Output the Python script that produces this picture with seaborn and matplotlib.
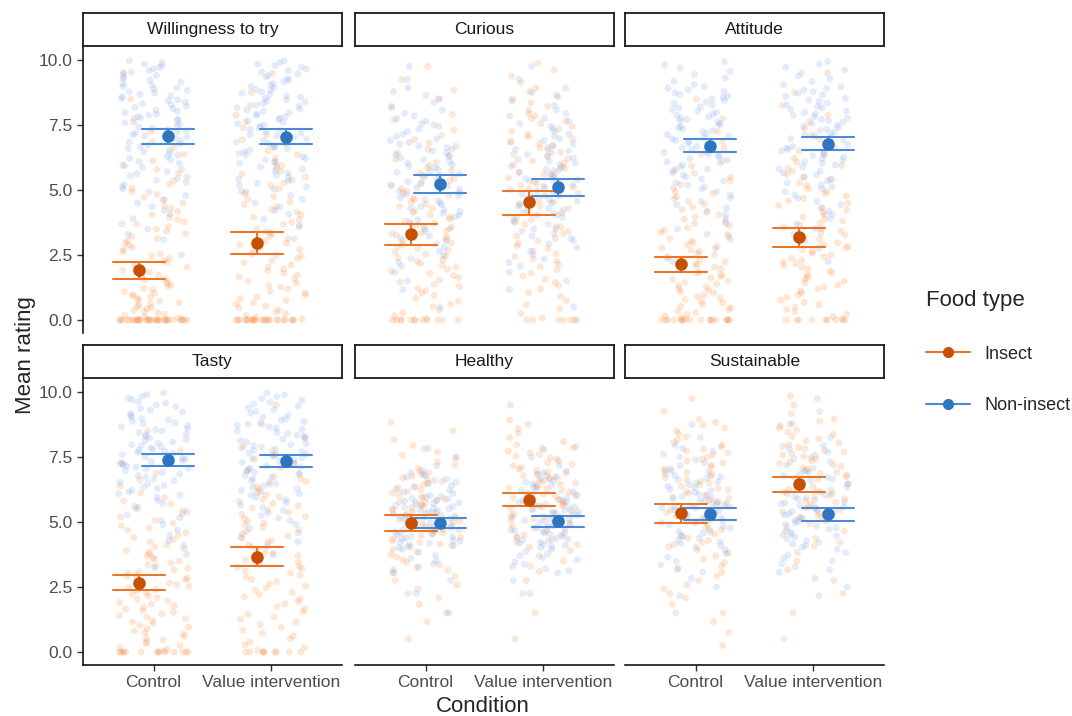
"""Insect vs non-insect food ratings by condition: raw ratings + means with 95% CI."""
import matplotlib
matplotlib.use("Agg")
import matplotlib.pyplot as plt
from matplotlib.lines import Line2D
import numpy as np
import pandas as pd
import seaborn as sns

FACETS = ["Willingness to try", "Curious", "Attitude", "Tasty", "Healthy", "Sustainable"]
CONDITIONS = ["Control", "Value intervention"]
FOOD_TYPES = ["Insect", "Non-insect"]

# mean rating and 95% CI per facet, each pair is [Control, Value intervention]
INSECT_MEAN = [[1.93, 2.97], [3.30, 4.52], [2.14, 3.19], [2.66, 3.65], [4.95, 5.85], [5.33, 6.45]]
INSECT_LOW = [[1.58, 2.55], [2.90, 4.05], [1.85, 2.82], [2.38, 3.29], [4.64, 5.60], [4.96, 6.15]]
INSECT_HIGH = [[2.24, 3.40], [3.71, 4.98], [2.43, 3.55], [2.97, 4.05], [5.27, 6.10], [5.69, 6.72]]
NONINSECT_MEAN = [[7.07, 7.03], [5.22, 5.10], [6.70, 6.78], [7.39, 7.33], [4.97, 5.02], [5.32, 5.29]]
NONINSECT_LOW = [[6.76, 6.76], [4.89, 4.77], [6.46, 6.54], [7.17, 7.11], [4.78, 4.82], [5.09, 5.03]]
NONINSECT_HIGH = [[7.34, 7.34], [5.56, 5.43], [6.96, 7.04], [7.62, 7.57], [5.14, 5.22], [5.54, 5.53]]

# raw participant ratings, counted per bin:
# first value = ratings of exactly 0, then bins [0,1) [1,2) ... [9,10]
# each facet: [Control, Value intervention]
WILLINGNESS_INSECT = [[32, 20, 16, 12, 11, 9, 7, 4, 2, 1, 1], [24, 14, 13, 12, 11, 10, 9, 7, 4, 2, 1]]
WILLINGNESS_NONINSECT = [[0, 0, 0, 1, 5, 7, 12, 16, 20, 20, 16], [0, 0, 0, 1, 4, 7, 13, 16, 19, 20, 16]]
CURIOUS_INSECT = [[12, 9, 12, 14, 13, 12, 10, 8, 5, 3, 2], [7, 6, 8, 10, 11, 12, 14, 12, 10, 7, 4]]
CURIOUS_NONINSECT = [[0, 1, 3, 7, 11, 15, 17, 15, 10, 7, 2], [0, 1, 3, 7, 11, 15, 17, 15, 10, 6, 2]]
ATTITUDE_INSECT = [[17, 16, 17, 15, 12, 10, 7, 4, 2, 1, 0], [9, 11, 13, 15, 13, 11, 9, 7, 4, 2, 1]]
ATTITUDE_NONINSECT = [[0, 0, 0, 2, 5, 8, 13, 17, 19, 17, 8], [0, 0, 0, 2, 5, 8, 13, 17, 19, 16, 9]]
TASTY_INSECT = [[14, 14, 16, 16, 15, 11, 8, 4, 2, 1, 0], [9, 9, 10, 12, 12, 12, 12, 10, 6, 2, 1]]
TASTY_NONINSECT = [[0, 0, 0, 0, 2, 5, 9, 16, 23, 19, 15], [0, 0, 0, 0, 2, 6, 10, 16, 22, 19, 14]]
HEALTHY_INSECT = [[0, 1, 3, 6, 10, 16, 21, 15, 8, 3, 0], [0, 1, 1, 2, 5, 11, 18, 21, 16, 6, 0]]
HEALTHY_NONINSECT = [[0, 0, 1, 2, 9, 25, 29, 16, 3, 0, 0], [0, 0, 0, 2, 12, 25, 25, 16, 3, 0, 1]]
SUSTAINABLE_INSECT = [[0, 2, 3, 6, 8, 12, 16, 15, 13, 9, 2], [0, 1, 1, 2, 3, 7, 14, 18, 18, 12, 3]]
SUSTAINABLE_NONINSECT = [[0, 0, 1, 3, 7, 15, 23, 17, 9, 2, 0], [0, 0, 0, 3, 9, 16, 21, 16, 8, 2, 2]]

RAW_COUNTS = {
    "Willingness to try": (WILLINGNESS_INSECT, WILLINGNESS_NONINSECT),
    "Curious": (CURIOUS_INSECT, CURIOUS_NONINSECT),
    "Attitude": (ATTITUDE_INSECT, ATTITUDE_NONINSECT),
    "Tasty": (TASTY_INSECT, TASTY_NONINSECT),
    "Healthy": (HEALTHY_INSECT, HEALTHY_NONINSECT),
    "Sustainable": (SUSTAINABLE_INSECT, SUSTAINABLE_NONINSECT),
}

SCATTER_COLORS = {"Insect": "#F7873A", "Non-insect": "#7AA3E5"}
BAR_COLORS = {"Insect": "#E8772A", "Non-insect": "#4A8AD6"}
POINT_COLORS = {"Insect": "#C65000", "Non-insect": "#2F74C0"}


def counts_to_ratings(counts):
    vals = [0.0] * counts[0]
    for k, n in enumerate(counts[1:]):
        vals += list(k + (np.arange(n) + 0.5) / max(n, 1))
    return vals


def build_raw() -> pd.DataFrame:
    rows = []
    for facet in FACETS:
        for food, per_cond in zip(FOOD_TYPES, RAW_COUNTS[facet]):
            for cond, counts in zip(CONDITIONS, per_cond):
                for v in counts_to_ratings(counts):
                    rows.append({"facet": facet, "food": food, "condition": cond, "rating": v})
    return pd.DataFrame(rows)


def build_summary() -> pd.DataFrame:
    # low / mean / high per group -> median gives mean, 100% interval gives CI
    rows = []
    stats = {
        "Insect": (INSECT_LOW, INSECT_MEAN, INSECT_HIGH),
        "Non-insect": (NONINSECT_LOW, NONINSECT_MEAN, NONINSECT_HIGH),
    }
    for i, facet in enumerate(FACETS):
        for food in FOOD_TYPES:
            for j, cond in enumerate(CONDITIONS):
                for arr in stats[food]:
                    rows.append({"facet": facet, "food": food, "condition": cond, "rating": arr[i][j]})
    return pd.DataFrame(rows)


def main():
    sns.set_style("ticks")
    plt.rcParams["font.family"] = ["Liberation Sans", "DejaVu Sans"]
    np.random.seed(3)

    raw = build_raw()
    summ = build_summary()

    W, H = 1072, 716
    fig = plt.figure(figsize=(W / 100, H / 100), dpi=100)
    col_x = [83, 355, 625]
    row_top = [47, 379]
    pw, ph = 259, 286
    strip_h = 33

    for i, facet in enumerate(FACETS):
        r, c = divmod(i, 3)
        x0, top = col_x[c], row_top[r]
        ax = fig.add_axes([x0 / W, 1 - (top + ph) / H, pw / W, ph / H])
        sub = raw[raw["facet"] == facet]
        sns.stripplot(data=sub, x="condition", y="rating", hue="food",
                      order=CONDITIONS, hue_order=FOOD_TYPES, palette=SCATTER_COLORS,
                      jitter=0.3, size=5, alpha=0.2, linewidth=0, legend=False,
                      ax=ax, zorder=1)
        s = summ[summ["facet"] == facet]
        sns.pointplot(data=s, x="condition", y="rating", hue="food",
                      order=CONDITIONS, hue_order=FOOD_TYPES, palette=BAR_COLORS,
                      estimator="median", errorbar=("pi", 100), dodge=0.25,
                      capsize=0.44, linestyle="none", marker="", err_kws={"linewidth": 1.5},
                      legend=False, ax=ax)
        sns.pointplot(data=s, x="condition", y="rating", hue="food",
                      order=CONDITIONS, hue_order=FOOD_TYPES, palette=POINT_COLORS,
                      estimator="median", errorbar=None, dodge=0.25,
                      linestyle="none", marker="o", markersize=7,
                      legend=False, ax=ax)
        ax.set_xlim(-0.6, 1.6)
        ax.set_ylim(-0.5, 10.5)
        ax.set_xlabel("")
        ax.set_ylabel("")
        ax.set_yticks([0, 2.5, 5, 7.5, 10])
        ax.set_yticklabels(["0.0", "2.5", "5.0", "7.5", "10.0"])
        for sp in ["top", "right"]:
            ax.spines[sp].set_visible(False)
        for sp in ["left", "bottom"]:
            ax.spines[sp].set_linewidth(1.1)
            ax.spines[sp].set_color("black")
        ax.tick_params(labelsize=12.5, labelcolor="#4D4D4D", color="#333333",
                       length=4, width=1.0)
        if c > 0:
            ax.spines["left"].set_visible(False)
            ax.tick_params(left=False, labelleft=False)
        if r == 0:
            ax.spines["bottom"].set_visible(False)
            ax.tick_params(bottom=False, labelbottom=False)

        sax = fig.add_axes([x0 / W, 1 - (top - 1) / H, pw / W, strip_h / H])
        sax.set_xticks([])
        sax.set_yticks([])
        for sp in sax.spines.values():
            sp.set_visible(True)
            sp.set_linewidth(1.3)
            sp.set_color("#1A1A1A")
        sax.text(0.5, 0.5, facet, ha="center", va="center", fontsize=12.5, color="#1A1A1A")

    fig.text(25 / W, 1 - 355 / H, "Mean rating", rotation=90, ha="center", va="center", fontsize=16)
    fig.text(483 / W, 1 - 707 / H, "Condition", ha="center", va="center", fontsize=16)

    handles = [Line2D([0], [0], color=BAR_COLORS[f], lw=1.5, marker="o", markersize=7,
                      markerfacecolor=POINT_COLORS[f], markeredgecolor=POINT_COLORS[f])
               for f in FOOD_TYPES]
    fig.legend(handles, FOOD_TYPES, title="Food type", loc="upper left",
               bbox_to_anchor=(910 / W, 1 - 274 / H), frameon=False, fontsize=13,
               title_fontsize=16, labelspacing=1.9, handlelength=2.4, alignment="left")

    fig.savefig("out.png", dpi=100)
    plt.close(fig)


if __name__ == "__main__":
    main()
